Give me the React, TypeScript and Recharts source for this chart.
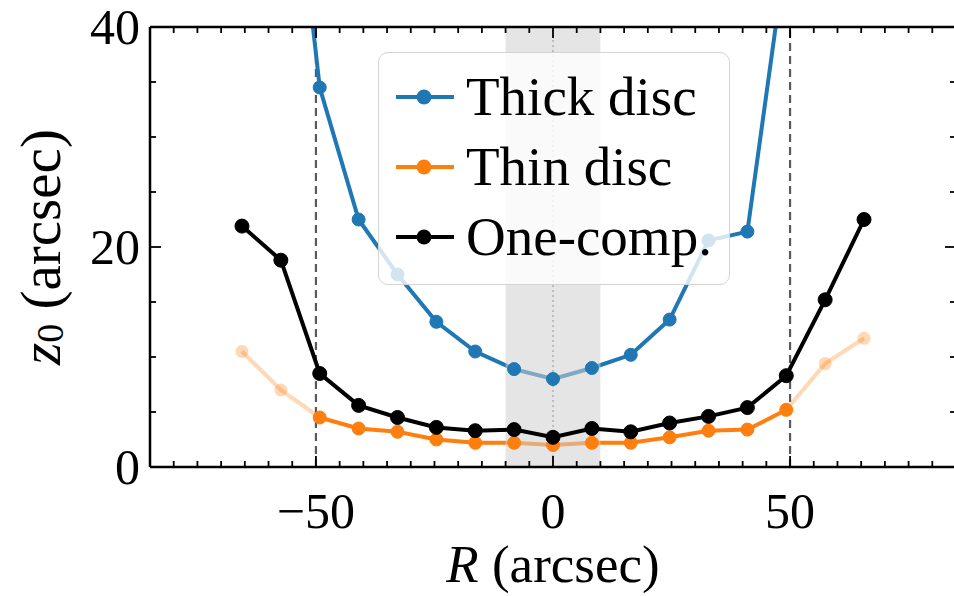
import React from 'react';
import {
  LineChart,
  Line,
  XAxis,
  YAxis,
  ReferenceArea,
  ReferenceLine,
  Legend,
} from 'recharts';

// radial bins (arcsec) and fitted scale heights z0 (arcsec)
const radii = [-65.6, -57.4, -49.2, -41, -32.8, -24.6, -16.4, -8.2, 0, 8.2, 16.4, 24.6, 32.8, 41, 49.2, 57.4, 65.6];
const thickDisc = [null, 66, 34.5, 22.5, 17.5, 13.2, 10.5, 8.9, 8.0, 9.0, 10.2, 13.4, 20.6, 21.4, 47, null, null];
const thinDisc = [10.5, 7.0, 4.5, 3.5, 3.2, 2.5, 2.2, 2.2, 2.0, 2.2, 2.2, 2.7, 3.3, 3.4, 5.2, 9.4, 11.7];
const oneComp = [21.9, 18.8, 8.5, 5.6, 4.5, 3.6, 3.3, 3.4, 2.7, 3.5, 3.2, 4.0, 4.6, 5.4, 8.3, 15.2, 22.5];

const xTicks = [-85, -80, -75, -70, -65, -60, -55, -50, -45, -40, -35, -30, -25, -20, -15, -10, -5, 0, 5, 10, 15, 20, 25, 30, 35, 40, 45, 50, 55, 60, 65, 70, 75, 80, 85];
const xLabelled = [-50, 0, 50];
const yTicks = [0, 5, 10, 15, 20, 25, 30, 35, 40];
const yLabelled = [0, 20, 40];

const FIT_EDGE = 50;
const CORE = 10;

const BLUE = '#1f77b4';
const ORANGE = '#ff7f0e';
const BLACK = '#000000';
const FONT = "'Liberation Serif', 'DejaVu Serif', serif";

// chart frame (the top and right axes need a non-zero size to be drawn)
const W = 960;
const H = 596;
const MARGIN = { top: 26, right: 3, bottom: 0, left: 0 };
const Y_AXIS_W = 150;
const X_AXIS_H = 129;
const TOP_AXIS_H = 1;
const RIGHT_AXIS_W = 1;
const PLOT_LEFT = MARGIN.left + Y_AXIS_W;
const PLOT_RIGHT = W - MARGIN.right - RIGHT_AXIS_W;
const PLOT_TOP = MARGIN.top + TOP_AXIS_H;
const PLOT_BOTTOM = H - MARGIN.bottom - X_AXIS_H;
const MAJOR_LEN = 11;
const MINOR_LEN = 6;

const legendItems = [
  { name: 'Thick disc', color: BLUE },
  { name: 'Thin disc', color: ORANGE },
  { name: 'One-comp.', color: BLACK },
];

const rows = radii.map((R, i) => ({
  R,
  thick: thickDisc[i],
  thinIn: Math.abs(R) <= FIT_EDGE ? thinDisc[i] : null,
  thinOut: Math.abs(R) >= FIT_EDGE - 1 ? thinDisc[i] : null,
  one: oneComp[i],
}));

const fmt = (v: number) => (v < 0 ? `\u2212${Math.abs(v)}` : `${v}`);

// inward ticks, drawn from the tick's position along the axis
const XTickBottom = (props: any) => {
  const { x, payload } = props;
  const major = xLabelled.includes(payload.value);
  return (
    <g>
      <line x1={x} x2={x} y1={PLOT_BOTTOM} y2={PLOT_BOTTOM - (major ? MAJOR_LEN : MINOR_LEN)} stroke="#000" strokeWidth={1.8} />
      {major && (
        <text x={x} y={PLOT_BOTTOM + 61} textAnchor="middle" fontFamily={FONT} fontSize={50} fill="#000">
          {fmt(payload.value)}
        </text>
      )}
    </g>
  );
};

const XTickTop = (props: any) => {
  const { x, payload } = props;
  const major = xLabelled.includes(payload.value);
  return <line x1={x} x2={x} y1={PLOT_TOP} y2={PLOT_TOP + (major ? MAJOR_LEN : MINOR_LEN)} stroke="#000" strokeWidth={1.8} />;
};

const YTickLeft = (props: any) => {
  const { y, payload } = props;
  const major = yLabelled.includes(payload.value);
  return (
    <g>
      <line x1={PLOT_LEFT} x2={PLOT_LEFT + (major ? MAJOR_LEN : MINOR_LEN)} y1={y} y2={y} stroke="#000" strokeWidth={1.8} />
      {major && (
        <text x={PLOT_LEFT - 10} y={y + 17} textAnchor="end" fontFamily={FONT} fontSize={50} fill="#000">
          {payload.value}
        </text>
      )}
    </g>
  );
};

const YTickRight = (props: any) => {
  const { y, payload } = props;
  const major = yLabelled.includes(payload.value);
  return <line x1={PLOT_RIGHT} x2={PLOT_RIGHT - (major ? MAJOR_LEN : MINOR_LEN)} y1={y} y2={y} stroke="#000" strokeWidth={1.8} />;
};

const XTitle = (props: any) => {
  const { viewBox } = props;
  const cx = viewBox.x + viewBox.width / 2;
  return (
    <text x={cx} y={PLOT_BOTTOM + 115} textAnchor="middle" fontFamily={FONT} fontSize={53} fill="#000">
      <tspan fontStyle="italic">R</tspan>
      <tspan> (arcsec)</tspan>
    </text>
  );
};

const YTitle = () => {
  const cx = 40;
  const cy = (PLOT_TOP + PLOT_BOTTOM) / 2;
  return (
    <text
      x={cx}
      y={cy}
      transform={`rotate(-90 ${cx} ${cy})`}
      textAnchor="middle"
      dominantBaseline="central"
      fontFamily={FONT}
      fontSize={57}
      fill="#000"
    >
      <tspan fontStyle="italic">z</tspan>
      <tspan fontSize={38} dy={10}>0</tspan>
      <tspan dy={-10}> (arcsec)</tspan>
    </text>
  );
};

const LegendBox = () => (
  <div
    style={{
      width: 352,
      height: 233,
      boxSizing: 'border-box',
      border: '1.5px solid #d4d4d4',
      borderRadius: 10,
      background: 'rgba(255,255,255,0.8)',
    }}
  >
    <svg width={350} height={231}>
      {legendItems.map((item, i) => {
        const cy = 44 + i * 70;
        return (
          <g key={item.name}>
            <line x1={17} x2={75} y1={cy} y2={cy} stroke={item.color} strokeWidth={4} />
            <circle cx={45} cy={cy} r={7.5} fill={item.color} />
            <text x={87} y={cy + 18} fontFamily={FONT} fontSize={55} fill="#000">
              {item.name}
            </text>
          </g>
        );
      })}
    </svg>
  </div>
);

const frame = { stroke: '#000', strokeWidth: 2.5 };

export default function App() {
  return (
    <div style={{ position: 'absolute', left: 0, top: 0, width: 954, height: 596, overflow: 'hidden', background: '#fff' }}>
      <LineChart width={W} height={H} data={rows} margin={MARGIN}>
        <XAxis
          dataKey="R"
          type="number"
          domain={[-85, 85]}
          ticks={xTicks}
          interval={0}
          tickLine={false}
          tick={<XTickBottom />}
          axisLine={frame}
          height={X_AXIS_H}
          label={{ content: XTitle }}
        />
        <XAxis
          xAxisId="top"
          orientation="top"
          dataKey="R"
          type="number"
          domain={[-85, 85]}
          ticks={xTicks}
          interval={0}
          tickLine={false}
          tick={<XTickTop />}
          axisLine={frame}
          height={TOP_AXIS_H}
        />
        <YAxis
          type="number"
          domain={[0, 40]}
          allowDataOverflow
          ticks={yTicks}
          interval={0}
          tickLine={false}
          tick={<YTickLeft />}
          axisLine={frame}
          width={Y_AXIS_W}
          label={{ content: YTitle }}
        />
        <YAxis
          yAxisId="right"
          orientation="right"
          type="number"
          domain={[0, 40]}
          allowDataOverflow
          ticks={yTicks}
          interval={0}
          tickLine={false}
          tick={<YTickRight />}
          axisLine={frame}
          width={RIGHT_AXIS_W}
        />
        <ReferenceLine x={-FIT_EDGE} stroke="#5a5a5a" strokeWidth={2.2} strokeDasharray="8 5" />
        <ReferenceLine x={FIT_EDGE} stroke="#5a5a5a" strokeWidth={2.2} strokeDasharray="8 5" />
        <ReferenceLine x={0} stroke="#777" strokeWidth={1.3} strokeDasharray="2 3" />
        <Line
          xAxisId="top"
          yAxisId="right"
          dataKey="thick"
          stroke={BLUE}
          strokeWidth={4}
          dot={{ r: 6.5, fill: BLUE, stroke: BLUE, strokeWidth: 1 }}
          isAnimationActive={false}
        />
        <Line
          dataKey="thinOut"
          stroke={ORANGE}
          strokeOpacity={0.3}
          strokeWidth={4}
          dot={{ r: 6.5, fill: ORANGE, fillOpacity: 0.3, stroke: 'none' }}
          isAnimationActive={false}
        />
        <Line
          dataKey="thinIn"
          stroke={ORANGE}
          strokeWidth={4}
          dot={{ r: 6.5, fill: ORANGE, stroke: ORANGE, strokeWidth: 1 }}
          isAnimationActive={false}
        />
        <ReferenceArea x1={-CORE} x2={CORE} fill="#d0d0d0" fillOpacity={0.55} stroke="none" zIndex={450} />
        <Line
          dataKey="one"
          stroke={BLACK}
          strokeWidth={4}
          dot={{ r: 7, fill: BLACK, stroke: BLACK, strokeWidth: 1 }}
          isAnimationActive={false}
          zIndex={500}
        />
        <Legend
          layout="vertical"
          align="center"
          verticalAlign="middle"
          content={<LegendBox />}
          wrapperStyle={{ left: 378, top: 52, width: 352, height: 233 }}
        />
      </LineChart>
    </div>
  );
}
